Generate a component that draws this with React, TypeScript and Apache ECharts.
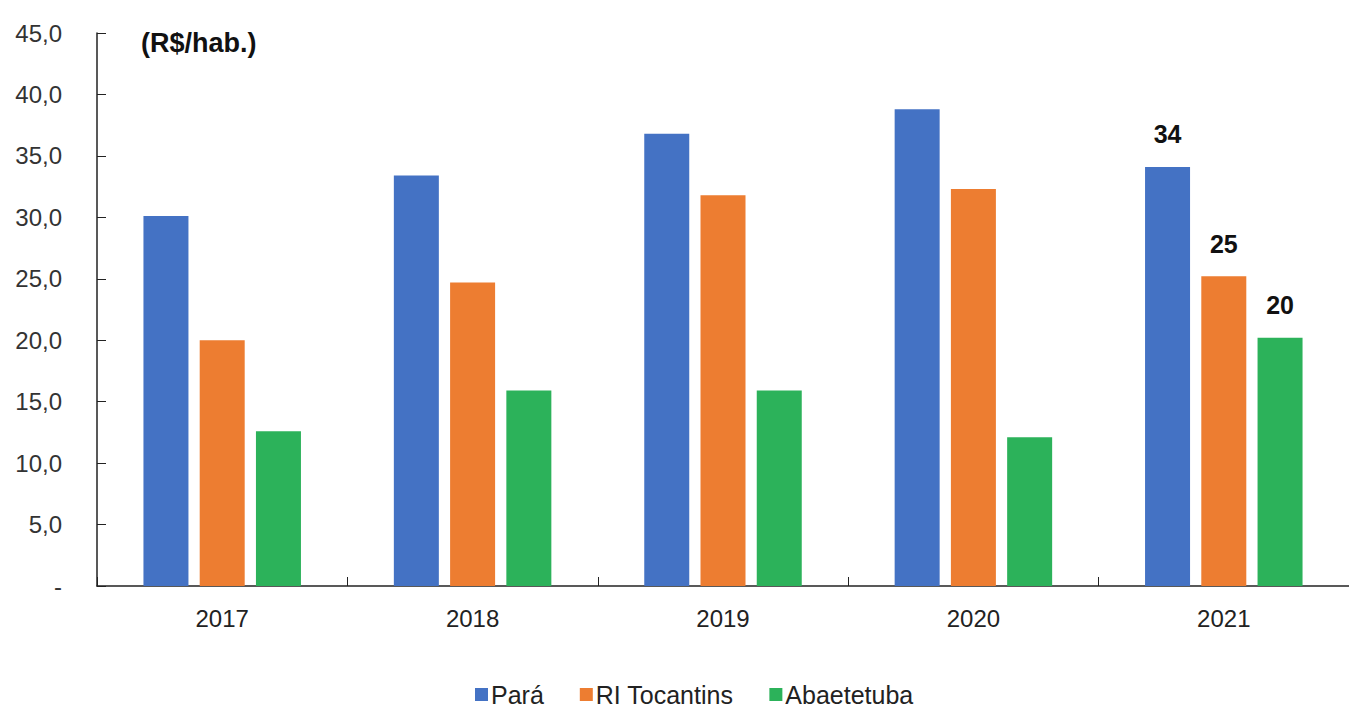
import React, { useEffect, useRef } from "react";
import * as echarts from "echarts";

const categories = ["2017", "2018", "2019", "2020", "2021"];
const para = [30.1, 33.4, 36.8, 38.8, 34.1];
const riTocantins = [20.0, 24.7, 31.8, 32.3, 25.2];
const abaetetuba = [12.6, 15.9, 15.9, 12.1, 20.2];
const seriesNames = ["Pará", "RI Tocantins", "Abaetetuba"];
const colors = ["#4472C4", "#ED7D31", "#2CB25A"];
const labeledIndex = 4;

const FONT = "'Liberation Sans', Arial, sans-serif";

function buildData(values: number[]) {
  return values.map((v, i) =>
    i === labeledIndex
      ? {
          value: v,
          label: {
            show: true,
            position: "top",
            distance: 20,
            formatter: (p: any) => String(Math.round(p.value)),
            fontFamily: FONT,
            fontWeight: "bold",
            fontSize: 25,
            color: "#111",
          },
        }
      : v
  );
}

export default function App() {
  const ref = useRef<HTMLDivElement>(null);
  useEffect(() => {
    if (!ref.current) return;
    const chart = echarts.init(ref.current, undefined, { renderer: "svg" });
    const all = [para, riTocantins, abaetetuba];
    chart.setOption({
      animation: false,
      backgroundColor: "#ffffff",
      title: {
        text: "(R$/hab.)",
        left: 136,
        top: 24,
        textStyle: { fontFamily: FONT, fontWeight: "bold", fontSize: 27, color: "#111" },
      },
      grid: { left: 97, right: 0, top: 33, bottom: 123, containLabel: false },
      legend: {
        bottom: -3,
        left: 470,
        itemWidth: 13,
        itemHeight: 13,
        itemGap: 36,
        icon: "rect",
        data: seriesNames,
        textStyle: { fontFamily: FONT, fontSize: 25, color: "#222", padding: [0, 0, 0, -2] },
      },
      xAxis: {
        type: "category",
        data: categories,
        axisLine: { lineStyle: { color: "#222", width: 1.5 } },
        axisTick: { show: true, inside: true, length: 9, lineStyle: { color: "#222" } },
        axisLabel: { fontFamily: FONT, fontSize: 24, color: "#222", margin: 20 },
      },
      yAxis: {
        type: "value",
        min: 0,
        max: 45,
        interval: 5,
        splitLine: { show: false },
        axisLine: { show: true, lineStyle: { color: "#222", width: 1.5 } },
        axisTick: { show: true, inside: true, length: 9, lineStyle: { color: "#222" } },
        axisLabel: {
          fontFamily: FONT,
          fontSize: 24,
          color: "#333",
          margin: 35,
          formatter: (v: number) => (v === 0 ? "-" : v.toFixed(1).replace(".", ",")),
        },
      },
      series: seriesNames.map((name, k) => ({
        name,
        type: "bar",
        data: buildData(all[k]),
        barWidth: 45,
        barGap: "25%",
        itemStyle: { color: colors[k] },
      })),
    });
    return () => chart.dispose();
  }, []);
  return (
    <div
      ref={ref}
      style={{ position: "fixed", left: 0, top: 0, width: 1349, height: 709 }}
    />
  );
}
